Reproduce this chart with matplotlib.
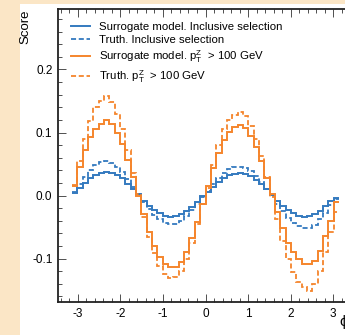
import numpy as np
import matplotlib
matplotlib.use("Agg")
import matplotlib.pyplot as plt
from matplotlib.patches import Rectangle
from matplotlib.ticker import MultipleLocator

plt.rcParams['font.family'] = ['Liberation Sans', 'DejaVu Sans']
plt.rcParams['mathtext.fontset'] = 'custom'
plt.rcParams['mathtext.rm'] = 'Liberation Sans'
plt.rcParams['mathtext.it'] = 'Liberation Sans:italic'

# 50 bins in phi, -pi .. pi
phi_edges = np.linspace(-np.pi, np.pi, 51)

surrogate_incl = [
    0.004, 0.012, 0.020, 0.027, 0.032, 0.035, 0.038, 0.036, 0.032, 0.027,
    0.019, 0.010, 0.002, -0.008, -0.016, -0.023, -0.028, -0.032, -0.034, -0.033,
    -0.030, -0.024, -0.018, -0.010, -0.001,
    0.006, 0.014, 0.021, 0.027, 0.032, 0.034, 0.036, 0.034, 0.031, 0.025,
    0.018, 0.010, 0.001, -0.008, -0.016, -0.023, -0.028, -0.032, -0.034, -0.033,
    -0.030, -0.025, -0.017, -0.009, -0.004]
truth_incl = [
    0.005, 0.018, 0.030, 0.040, 0.048, 0.053, 0.055, 0.052, 0.046, 0.037,
    0.026, 0.013, 0.001, -0.011, -0.022, -0.031, -0.038, -0.043, -0.045, -0.045,
    -0.040, -0.032, -0.023, -0.013, -0.003,
    0.007, 0.018, 0.028, 0.036, 0.042, 0.045, 0.046, 0.044, 0.039, 0.031,
    0.022, 0.011, -0.001, -0.013, -0.025, -0.035, -0.043, -0.049, -0.052, -0.052,
    -0.047, -0.038, -0.027, -0.015, -0.005]
surrogate_pt = [
    0.015, 0.046, 0.072, 0.093, 0.105, 0.114, 0.120, 0.113, 0.100, 0.082,
    0.057, 0.030, 0.000, -0.030, -0.058, -0.080, -0.097, -0.108, -0.113, -0.113,
    -0.106, -0.090, -0.068, -0.042, -0.014,
    0.015, 0.043, 0.068, 0.088, 0.101, 0.108, 0.112, 0.107, 0.094, 0.077,
    0.055, 0.028, 0.003, -0.026, -0.052, -0.075, -0.090, -0.101, -0.108, -0.109,
    -0.104, -0.088, -0.065, -0.040, -0.010]
truth_pt = [
    0.017, 0.055, 0.090, 0.118, 0.140, 0.150, 0.158, 0.148, 0.130, 0.105,
    0.072, 0.035, 0.002, -0.034, -0.066, -0.092, -0.112, -0.124, -0.131, -0.130,
    -0.120, -0.100, -0.075, -0.045, -0.013,
    0.012, 0.048, 0.080, 0.105, 0.120, 0.128, 0.132, 0.126, 0.110, 0.090,
    0.062, 0.030, -0.003, -0.038, -0.072, -0.100, -0.122, -0.138, -0.145, -0.152,
    -0.140, -0.120, -0.090, -0.058, -0.026]

blue = '#347abf'
orange = '#f5852c'
dash = (0, (2.8, 1.5))

fig = plt.figure(figsize=(3.45, 3.35), dpi=100, facecolor='#fbe6c6')
# white page area (the picture is a crop of a bigger page)
fig.patches.append(Rectangle((20 / 345, 0), 1, 1 - 4 / 335, transform=fig.transFigure,
                             facecolor='white', edgecolor='none', zorder=-5))

ax = fig.add_axes([58 / 345, 33 / 335, 295 / 345, 293 / 335])
ax.patch.set_alpha(0)

ax.stairs(surrogate_incl, phi_edges, color=blue, lw=1.4, baseline=None,
          label='Surrogate model. Inclusive selection')
ax.stairs(truth_incl, phi_edges, color=blue, lw=1.3, ls=dash, baseline=None,
          label='Truth. Inclusive selection')
ax.stairs(surrogate_pt, phi_edges, color=orange, lw=1.4, baseline=None,
          label=r'Surrogate model. $\mathrm{p}_{\mathrm{T}}^{\mathrm{Z}}$  > 100 GeV')
ax.stairs(truth_pt, phi_edges, color=orange, lw=1.3, ls=dash, baseline=None,
          label=r'Truth. $\mathrm{p}_{\mathrm{T}}^{\mathrm{Z}}$  > 100 GeV')

ax.set_xlim(-3.47, 3.47)
ax.set_ylim(-0.169, 0.296)
ax.set_xticks([-3, -2, -1, 0, 1, 2, 3])
ax.set_xticklabels(['-3', '-2', '-1', '0', '1', '2', '3'])
ax.set_yticks([-0.1, 0.0, 0.1, 0.2])
ax.set_yticklabels(['-0.1', '0.0', '0.1', '0.2'])
ax.xaxis.set_minor_locator(MultipleLocator(0.2))
ax.yaxis.set_minor_locator(MultipleLocator(0.02))
ax.tick_params(which='both', direction='in', top=True, right=True, labelsize=8.5,
               color='#333333', width=0.6)
ax.tick_params(which='major', length=6, pad=4)
ax.tick_params(which='minor', length=3)
for s in ax.spines.values():
    s.set_linewidth(1.3)
    s.set_color('#222222')

ax.set_ylabel('Score', fontsize=9.5, loc='top')
ax.yaxis.set_label_coords(-0.09, 1.0)
ax.set_xlabel('ϕ', fontsize=11, ha='right')
ax.xaxis.set_label_coords((348 - 58) / 295, -0.045)

ax.legend(loc='upper left', frameon=False, fontsize=8.2, handlelength=1.7,
          handletextpad=0.8, labelspacing=0.3, borderaxespad=0.7,
          bbox_to_anchor=(0.0, 1.0))

fig.savefig('out.png', dpi=100, facecolor=fig.get_facecolor())
